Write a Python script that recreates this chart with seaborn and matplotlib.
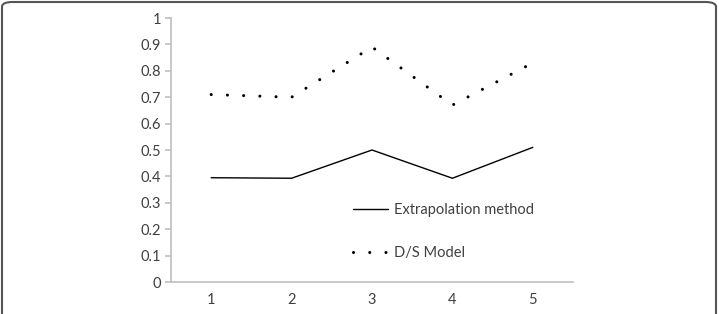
import matplotlib
matplotlib.use("Agg")
import matplotlib.pyplot as plt
from matplotlib.patches import FancyBboxPatch
import seaborn as sns
import pandas as pd
import numpy as np

categories = ["1", "2", "3", "4", "5"]
extrapolation = [0.395, 0.393, 0.50, 0.393, 0.51]
ds_model = [0.71, 0.70, 0.89, 0.67, 0.83]
y_ticks = [0, 0.1, 0.2, 0.3, 0.4, 0.5, 0.6, 0.7, 0.8, 0.9, 1]
y_tick_labels = ["0", "0.1", "0.2", "0.3", "0.4", "0.5", "0.6", "0.7", "0.8", "0.9", "1"]

sns.set_style("white")
plt.rcParams['font.family'] = ['Lato', 'DejaVu Sans']

df = pd.DataFrame({
    "cat": categories * 2,
    "val": extrapolation + ds_model,
    "series": ["Extrapolation method"] * 5 + ["D/S Model"] * 5,
})

fig = plt.figure(figsize=(7.19, 3.14), dpi=100)
ax = fig.add_axes([171/719, 1 - 282/314, 402/719, 264/314])

sns.lineplot(data=df[df.series == "Extrapolation method"], x="cat", y="val",
             ax=ax, color="black", linewidth=1.0, label="Extrapolation method")
sns.lineplot(data=df[df.series == "D/S Model"], x="cat", y="val",
             ax=ax, color="black", linewidth=2.2, label="D/S Model",
             linestyle=(0, (0.01, 5.3)), dash_capstyle="round")

ax.set_xlim(-0.5, 4.5)
ax.set_ylim(0, 1)
ax.set_xlabel("")
ax.set_ylabel("")

grey = "#bfbfbf"
txt = "#404040"
for s in ["top", "right"]:
    ax.spines[s].set_visible(False)
for s in ["left", "bottom"]:
    ax.spines[s].set_color(grey)
    ax.spines[s].set_linewidth(1.2)

ax.set_yticks(y_ticks)
ax.set_yticklabels(y_tick_labels)
ax.set_xticks(range(len(categories)))
ax.set_xticklabels(categories)
ax.set_xticks(np.arange(-0.5, 5, 1), minor=True)
ax.tick_params(axis="x", which="major", length=0, pad=8, labelsize=10.5, labelcolor=txt)
ax.tick_params(axis="x", which="minor", length=4, color=grey, width=1.2, direction="out")
ax.tick_params(axis="y", which="major", length=4, color=grey, width=1.2, direction="out",
               labelsize=10.5, labelcolor=txt, pad=3)
ax.tick_params(left=True, bottom=True)

leg = ax.legend(loc="upper left", bbox_to_anchor=(0.42, 0.35), frameon=False,
                fontsize=10.5, handlelength=2.4, labelspacing=2.0, handletextpad=0.4,
                labelcolor=txt)

frame = FancyBboxPatch((2/719, -0.2), 714/719, 1.2 - 2/314,
                       boxstyle="round,pad=0,rounding_size=0.015",
                       transform=fig.transFigure, fill=False,
                       edgecolor="#555555", linewidth=1.5)
fig.patches.append(frame)

fig.savefig("out.png", dpi=100)
